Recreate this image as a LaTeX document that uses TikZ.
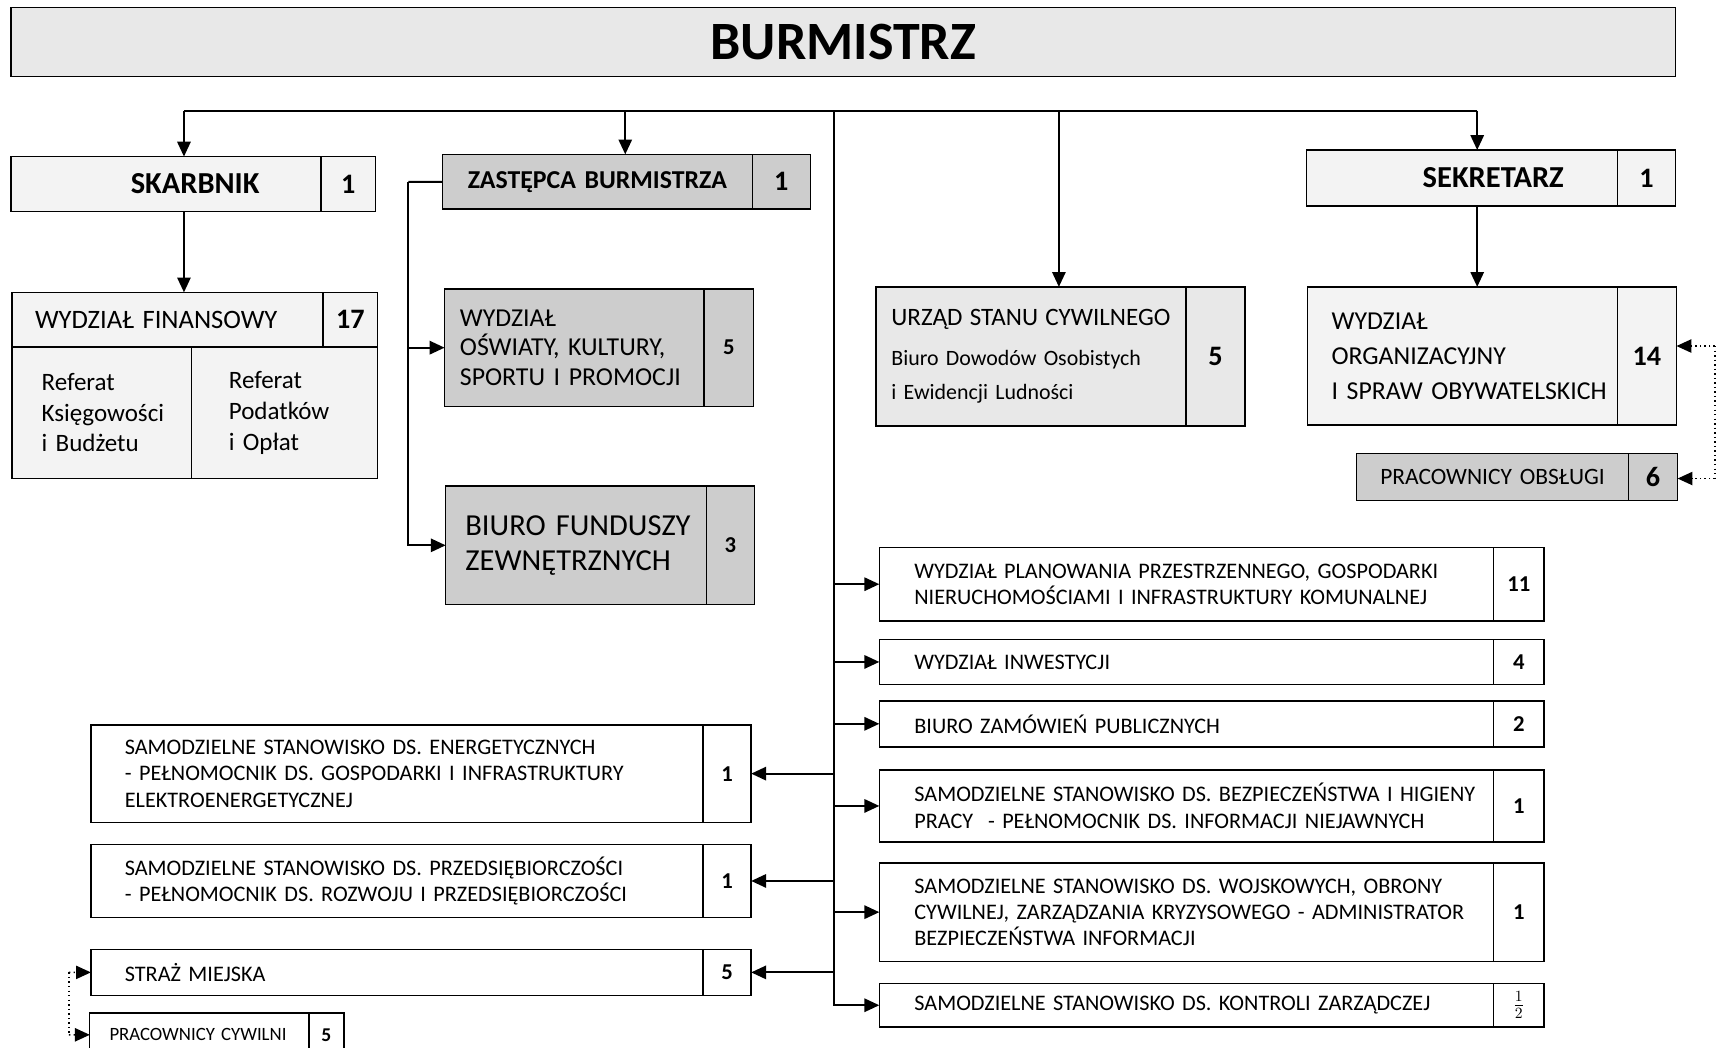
\documentclass[tikz,border=0pt]{standalone}
\usepackage{fontspec}
\setmainfont{Carlito}
\usetikzlibrary{positioning,arrows.meta}
\definecolor{ciemny}{RGB}{205,205,205}
\definecolor{sredni}{RGB}{232,232,232}
\definecolor{jasny}{RGB}{243,243,243}
\newcommand\fTytul{\fontsize{34.5}{38}\selectfont\bfseries}
\newcommand\fSzef{\fontsize{19.5}{22}\selectfont\bfseries}
\newcommand\fMaly{\fontsize{14.2}{16.8}\selectfont}
\newcommand\fLiczba{\fontsize{18}{20}\selectfont\bfseries}
\newcommand\fLiczbaM{\fontsize{14.5}{17}\selectfont\bfseries}
\frenchspacing

\begin{document}
\begin{tikzpicture}[x=0.7pt,y=-0.7pt]
\tikzstyle{every node}=[outer sep=0pt,inner ysep=0pt]
\tikzstyle{komorka}=[draw,line width=0.9pt,rectangle,anchor=north west,align=left,inner xsep=4pt]
\tikzstyle{liczba}=[draw,line width=0.9pt,rectangle,inner xsep=0pt,font=\fLiczba]
\tikzstyle{wciecie}=[execute at begin node={\leftskip=#1\relax}]
\tikzstyle{linia}=[line width=1.3pt]
\tikzstyle{strzalka}=[line width=1.3pt,-{Triangle[length=9.5pt,width=8.5pt]}]
\tikzstyle{kropki}=[line width=0.9pt,dotted,-{Triangle[length=9.5pt,width=8.5pt]}]
\clip (0,0) rectangle (1568,957);

\node[komorka,fill=sredni,minimum width=1064pt,minimum height=44.1pt,align=center,font=\fTytul] (burm) at (10,7) {BURMISTRZ};

\node[komorka,fill=jasny,text width=119.7pt,inner xsep=39.2pt,minimum height=35pt,align=right,font=\fSzef] (skarb) at (10,143) {SKARBNIK};
\node[liczba,fill=jasny,right=0pt of skarb,minimum width=35pt,minimum height=35pt] (skarbn) {1};

\node[komorka,fill=ciemny,text width=188.1pt,inner xsep=5pt,minimum height=35pt,align=center,font=\fontsize{16.5}{19}\selectfont\bfseries] (zast) at (404,141) {ZASTĘPCA BURMISTRZA};
\node[liczba,fill=ciemny,right=0pt of zast,minimum width=37.1pt,minimum height=35pt] (zastn) {1};

\node[komorka,fill=jasny,text width=130.2pt,inner xsep=34.3pt,minimum height=35.7pt,align=right,font=\fSzef] (sekr) at (1193,137) {SEKRETARZ};
\node[liczba,fill=jasny,right=0pt of sekr,minimum width=37.1pt,minimum height=35.7pt] (sekrn) {1};

\node[komorka,fill=jasny,text width=190.8pt,wciecie=10.7pt,minimum height=35pt,font=\fontsize{17}{20}\selectfont] (wfin) at (11,267) {WYDZIAŁ FINANSOWY};
\node[liczba,fill=jasny,right=0pt of wfin,minimum width=35pt,minimum height=35pt] (wfinn) {17};
\node[komorka,fill=jasny,text width=106.8pt,wciecie=14.9pt,minimum height=84pt,font=\fontsize{16}{19.6}\selectfont] (refk) at (11,317) {Referat\\Księgowości\\i Budżetu};
\node[komorka,fill=jasny,text width=111pt,wciecie=19.8pt,minimum height=84pt,font=\fontsize{16}{19.6}\selectfont] (refp) at (175,317) {Referat\\Podatków\\i Opłat};

\node[komorka,fill=ciemny,text width=157.9pt,wciecie=5.8pt,minimum height=74.9pt,font=\fontsize{16.5}{18.9}\selectfont] (wosw) at (406,264) {WYDZIAŁ\\OŚWIATY, KULTURY,\\SPORTU I PROMOCJI};
\node[liczba,fill=ciemny,right=0pt of wosw,minimum width=31.5pt,minimum height=74.9pt,font=\fLiczbaM] (wosn) {5};

\node[komorka,fill=ciemny,text width=158.6pt,wciecie=8.6pt,minimum height=75.6pt,font=\fontsize{19.5}{22.4}\selectfont] (bfz) at (407,444) {BIURO FUNDUSZY\\ZEWNĘTRZNYCH};
\node[liczba,fill=ciemny,right=0pt of bfz,minimum width=30.8pt,minimum height=75.6pt,font=\fLiczbaM] (bfzn) {3};

\node[komorka,fill=sredni,text width=190.1pt,wciecie=5.8pt,minimum height=88.9pt,font=\fontsize{14}{21.7}\selectfont] (usc) at (800,262) {{\fontsize{16}{21.7}\selectfont URZĄD STANU CYWILNEGO}\\[4pt]Biuro Dowodów Osobistych\\i Ewidencji Ludności};
\node[liczba,fill=sredni,right=0pt of usc,minimum width=37.8pt,minimum height=88.9pt] (uscn) {5};

\node[komorka,fill=jasny,text width=190.1pt,wciecie=11.4pt,minimum height=88.2pt,font=\fontsize{16.5}{22.4}\selectfont] (worg) at (1194,262) {WYDZIAŁ\\ORGANIZACYJNY\\I SPRAW OBYWATELSKICH};
\node[liczba,fill=jasny,right=0pt of worg,minimum width=37.8pt,minimum height=88.2pt] (worgn) {14};

\node[komorka,fill=ciemny,text width=163.6pt,inner xsep=5pt,minimum height=30.1pt,align=center,font=\fontsize{15}{18}\selectfont] (pobs) at (1239,414) {PRACOWNICY OBSŁUGI};
\node[liczba,fill=ciemny,right=0pt of pobs,minimum width=31.5pt,minimum height=30.1pt] (pobsn) {6};

\node[komorka,text width=384.7pt,wciecie=18.4pt,minimum height=46.9pt,font=\fMaly] (wpp) at (803,500) {WYDZIAŁ PLANOWANIA PRZESTRZENNEGO, GOSPODARKI\\NIERUCHOMOŚCIAMI I INFRASTRUKTURY KOMUNALNEJ};
\node[liczba,right=0pt of wpp,minimum width=32.2pt,minimum height=46.9pt,font=\fLiczbaM] (wppn) {11};

\node[komorka,text width=384.7pt,wciecie=18.4pt,minimum height=28.7pt,font=\fMaly] (winw) at (803,584) {WYDZIAŁ INWESTYCJI};
\node[liczba,right=0pt of winw,minimum width=32.2pt,minimum height=28.7pt,font=\fLiczbaM] (winwn) {4};

\node[komorka,text width=384.7pt,wciecie=18.4pt,minimum height=29.4pt,font=\fMaly] (bzp) at (803,640) {BIURO ZAMÓWIEŃ PUBLICZNYCH};
\node[liczba,right=0pt of bzp,minimum width=32.2pt,minimum height=29.4pt,font=\fLiczbaM] (bzpn) {2};

\node[komorka,text width=384.7pt,wciecie=18.4pt,minimum height=46.2pt,font=\fMaly] (bhp) at (803,703) {SAMODZIELNE STANOWISKO DS. BEZPIECZEŃSTWA I HIGIENY\\PRACY~ - PEŁNOMOCNIK DS. INFORMACJI NIEJAWNYCH};
\node[liczba,right=0pt of bhp,minimum width=32.2pt,minimum height=46.2pt,font=\fLiczbaM] (bhpn) {1};

\node[komorka,text width=384.7pt,wciecie=18.4pt,minimum height=63pt,font=\fMaly] (woj) at (803,788) {SAMODZIELNE STANOWISKO DS. WOJSKOWYCH, OBRONY\\CYWILNEJ, ZARZĄDZANIA KRYZYSOWEGO - ADMINISTRATOR\\BEZPIECZEŃSTWA INFORMACJI};
\node[liczba,right=0pt of woj,minimum width=32.2pt,minimum height=63pt,font=\fLiczbaM] (wojn) {1};

\node[komorka,text width=384.7pt,wciecie=18.4pt,minimum height=28pt,font=\fMaly] (kz) at (803,898) {SAMODZIELNE STANOWISKO DS. KONTROLI ZARZĄDCZEJ};
\node[liczba,right=0pt of kz,minimum width=32.2pt,minimum height=28pt,font=\fontsize{14}{16}\selectfont] (kzn) {$\frac{1}{2}$};

\node[komorka,text width=383.3pt,wciecie=17.7pt,minimum height=62.3pt,font=\fMaly] (sen) at (83,662) {SAMODZIELNE STANOWISKO DS. ENERGETYCZNYCH\\- PEŁNOMOCNIK DS. GOSPODARKI I INFRASTRUKTURY\\ELEKTROENERGETYCZNEJ};
\node[liczba,right=0pt of sen,minimum width=30.8pt,minimum height=62.3pt,font=\fLiczbaM] (senn) {1};

\node[komorka,text width=383.3pt,wciecie=17.7pt,minimum height=46.9pt,font=\fMaly] (sprz) at (83,771) {SAMODZIELNE STANOWISKO DS. PRZEDSIĘBIORCZOŚCI\\- PEŁNOMOCNIK DS. ROZWOJU I PRZEDSIĘBIORCZOŚCI};
\node[liczba,right=0pt of sprz,minimum width=30.8pt,minimum height=46.9pt,font=\fLiczbaM] (sprzn) {1};

\node[komorka,text width=383.3pt,wciecie=17.7pt,minimum height=29.4pt,font=\fMaly] (sm) at (83,867) {STRAŻ MIEJSKA};
\node[liczba,right=0pt of sm,minimum width=30.8pt,minimum height=29.4pt,font=\fLiczbaM] (smn) {5};

\node[komorka,text width=132pt,wciecie=8.6pt,minimum height=28pt,font=\fontsize{12}{14}\selectfont] (pcyw) at (82,925) {PRACOWNICY CYWILNI};
\node[liczba,right=0pt of pcyw,minimum width=22.4pt,minimum height=28pt,font=\fontsize{12.5}{14}\selectfont\bfseries] (pcywn) {5};

\coordinate (b1) at (168,101);
\coordinate (b2) at (571,101);
\coordinate (b3) at (762,101);
\coordinate (b4) at (967,101);
\coordinate (b5) at (1349,101);
\coordinate (z1) at (373,166);
\coordinate (r1) at (1566,316);
\coordinate (r2) at (1566,437);
\coordinate (l1) at (63,888);
\coordinate (l2) at (63,945);

\draw[linia] (b1) -- (b5);
\draw[strzalka] (b1) -- (b1 |- skarb.north);
\draw[strzalka] (b2) -- (b2 |- zast.north);
\draw[strzalka] (b4) -- (b4 |- usc.north);
\draw[strzalka] (b5) -- (b5 |- sekr.north);
\draw[strzalka] (b1 |- skarb.south) -- (b1 |- wfin.north);
\draw[strzalka] (b5 |- sekr.south) -- (b5 |- worg.north);
\draw[linia] (zast.west) -- (z1);
\draw[strzalka] (z1) |- (bfz.west);
\draw[strzalka] (z1 |- wosw.west) -- (wosw.west);
\draw[strzalka] (b3) |- (kz.west);
\foreach \n in {wpp,winw,bzp,bhp,woj}
  \draw[strzalka] (b3 |- \n.west) -- (\n.west);
\foreach \n in {senn,sprzn,smn}
  \draw[strzalka] (b3 |- \n.east) -- (\n.east);
\draw[line width=0.9pt,dotted] (r1) -- (r2);
\draw[kropki] (r1) -- (r1 -| worgn.east);
\draw[kropki] (r2) -- (r2 -| pobsn.east);
\draw[line width=0.9pt,dotted] (l1) -- (l2);
\draw[kropki] (l1) -- (sm.west);
\draw[kropki] (l2) -- (pcyw.west);
\end{tikzpicture}
\end{document}
